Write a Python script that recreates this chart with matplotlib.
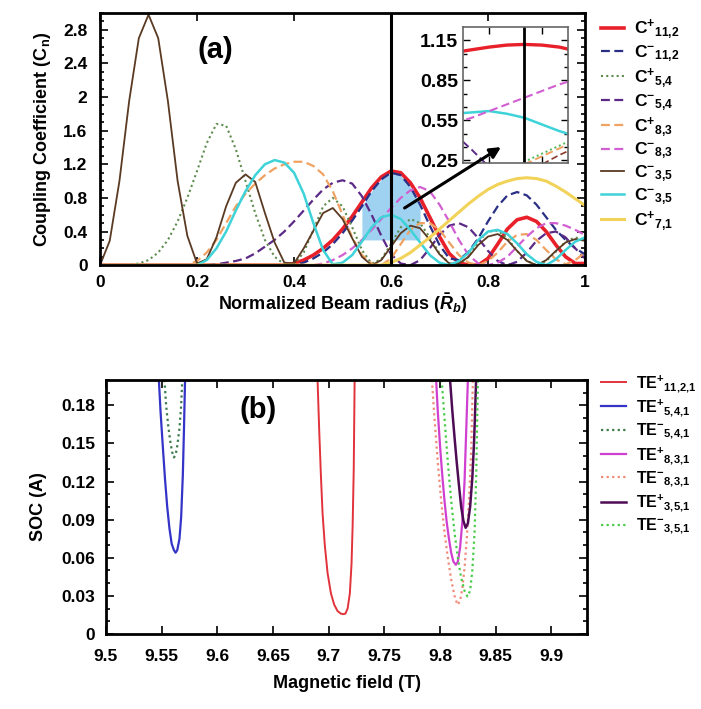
import numpy as np
import matplotlib.pyplot as plt
from matplotlib.ticker import MultipleLocator, FixedLocator

plt.rcParams['font.family'] = ['Liberation Sans', 'DejaVu Sans']
plt.rcParams['font.weight'] = 'bold'
plt.rcParams['mathtext.fontset'] = 'custom'
plt.rcParams['mathtext.rm'] = 'Liberation Sans:bold'
plt.rcParams['mathtext.bf'] = 'Liberation Sans:bold'
plt.rcParams['mathtext.it'] = 'Liberation Sans:bold:italic'
plt.rcParams['mathtext.default'] = 'rm'

# ---- (a) coupling coefficient vs normalized beam radius, sampled every 0.02 ----
rb = np.round(np.arange(0, 1.0001, 0.02), 2)

c_p112 = [0] * 20 + [0.02, 0.06, 0.12, 0.2, 0.3, 0.43, 0.58, 0.75, 0.92, 1.05, 1.12,
                     1.1, 0.98, 0.8, 0.57, 0.34, 0.14, 0.03, 0.0, 0.0, 0.08, 0.25,
                     0.43, 0.54, 0.57, 0.52, 0.4, 0.24, 0.1, 0.02, 0.02]
c_m112 = [0] * 21 + [0.03, 0.08, 0.15, 0.25, 0.38, 0.53, 0.7, 0.88, 1.02, 1.1, 1.07,
                     0.93, 0.72, 0.47, 0.24, 0.08, 0.06, 0.16, 0.32, 0.52, 0.7,
                     0.83, 0.87, 0.83, 0.72, 0.57, 0.42, 0.3, 0.2, 0.13]
c_p54 = [0, 0, 0, 0, 0.02, 0.06, 0.15, 0.3, 0.52, 0.8, 1.12, 1.45, 1.68, 1.66, 1.38,
         1.0, 0.62, 0.3, 0.1, 0.01, 0.01, 0.15, 0.42, 0.7, 0.8, 0.7, 0.45, 0.18,
         0.02, 0.07, 0.25, 0.45, 0.55, 0.5, 0.33, 0.14, 0.02, 0.01, 0.1, 0.28, 0.4,
         0.41, 0.32, 0.17, 0.05, 0.0, 0.05, 0.16, 0.28, 0.33, 0.3]
c_m54 = [0] * 12 + [0.01, 0.03, 0.05, 0.08, 0.14, 0.22, 0.3, 0.4, 0.52, 0.65, 0.78,
                    0.9, 0.98, 1.01, 0.97, 0.82, 0.6, 0.35, 0.13, 0.02, 0.0, 0.06,
                    0.2, 0.36, 0.47, 0.5, 0.45, 0.32, 0.17, 0.05, 0.0, 0.04, 0.15,
                    0.29, 0.38, 0.4, 0.33, 0.2, 0.08]
c_p83 = [0] * 10 + [0.05, 0.15, 0.3, 0.5, 0.7, 0.85, 0.97, 1.07, 1.15, 1.2, 1.23,
                    1.23, 1.18, 1.08, 0.88, 0.6, 0.33, 0.12, 0.02, 0.0, 0.08, 0.25,
                    0.42, 0.5, 0.5, 0.42, 0.27, 0.12, 0.03, 0.0, 0.05, 0.15, 0.28,
                    0.36, 0.37, 0.3, 0.18, 0.07, 0.01, 0.06, 0.15]
c_m83 = [0] * 23 + [0.02, 0.06, 0.12, 0.2, 0.3, 0.42, 0.55, 0.68, 0.8, 0.89, 0.93,
                    0.88, 0.72, 0.52, 0.3, 0.12, 0.02, 0.0, 0.03, 0.1, 0.22, 0.34,
                    0.44, 0.5, 0.5, 0.47, 0.42, 0.36]
c_m35a = [0, 0.29, 1.0, 1.95, 2.7, 2.98, 2.7, 1.95, 1.0, 0.35, 0.02, 0.07, 0.33, 0.7,
          0.98, 1.08, 0.99, 0.62, 0.27, 0.03, 0.02, 0.2, 0.41, 0.62, 0.68, 0.55,
          0.32, 0.1, 0.0, 0.06, 0.22, 0.38, 0.47, 0.44, 0.3, 0.13, 0.02, 0.02, 0.1,
          0.24, 0.34, 0.37, 0.3, 0.17, 0.05, 0.0, 0.06, 0.17, 0.27, 0.31, 0.29]
c_m35b = [0] * 11 + [0.06, 0.2, 0.4, 0.65, 0.88, 1.07, 1.2, 1.25, 1.22, 1.1, 0.85,
                     0.5, 0.18, 0.01, 0.03, 0.12, 0.28, 0.45, 0.57, 0.6, 0.55, 0.42,
                     0.27, 0.12, 0.03, 0.0, 0.05, 0.15, 0.3, 0.4, 0.42, 0.37, 0.26,
                     0.13, 0.04, 0.0, 0.07, 0.18, 0.28, 0.33]
c_p71 = [0] * 30 + [0.03, 0.08, 0.15, 0.24, 0.33, 0.43, 0.53, 0.63, 0.73, 0.82, 0.9,
                    0.96, 1.0, 1.03, 1.04, 1.03, 1.0, 0.94, 0.87, 0.79, 0.71]

# zoomed view around Rb = 0.6
rb_zoom = [0.56, 0.57, 0.58, 0.59, 0.60, 0.61, 0.62, 0.63]
zoom_red = [1.06, 1.08, 1.10, 1.115, 1.12, 1.115, 1.10, 1.07]
zoom_magenta = [0.53, 0.57, 0.62, 0.67, 0.72, 0.77, 0.82, 0.86]
zoom_cyan = [0.60, 0.61, 0.62, 0.60, 0.57, 0.52, 0.47, 0.43]
zoom_purple = [0.45, 0.33, 0.20, 0.10, 0.0, 0.0, 0.0, 0.0]
zoom_orange = [0.0, 0.0, 0.0, 0.15, 0.22, 0.28, 0.34, 0.40]
zoom_green = [0.0, 0.0, 0.0, 0.17, 0.24, 0.30, 0.36, 0.42]
zoom_brown = [0.0, 0.0, 0.0, 0.0, 0.15, 0.22, 0.29, 0.35]

# ---- (b) start-oscillation current vs magnetic field ----
b_p1121 = [9.690, 9.6915, 9.693, 9.6945, 9.6965, 9.699, 9.702, 9.705, 9.708, 9.711,
           9.713, 9.715, 9.717, 9.719, 9.7205, 9.7215, 9.7225, 9.7233]
soc_p1121 = [0.2, 0.16, 0.125, 0.095, 0.07, 0.048, 0.032, 0.023, 0.018, 0.016,
             0.0156, 0.016, 0.02, 0.032, 0.055, 0.085, 0.13, 0.2]
b_p541 = [9.5475, 9.549, 9.551, 9.553, 9.555, 9.557, 9.559, 9.561, 9.5625, 9.564,
          9.566, 9.5675, 9.569, 9.570, 9.571]
soc_p541 = [0.2, 0.175, 0.148, 0.122, 0.1, 0.083, 0.071, 0.066, 0.064, 0.066, 0.075,
            0.092, 0.125, 0.16, 0.2]
b_m541 = [9.5525, 9.554, 9.556, 9.558, 9.5595, 9.561, 9.5625, 9.564, 9.566, 9.5675,
          9.5685]
soc_m541 = [0.2, 0.18, 0.163, 0.15, 0.143, 0.139, 0.141, 0.148, 0.162, 0.18, 0.2]
b_p831 = [9.7965, 9.798, 9.8, 9.802, 9.804, 9.806, 9.808, 9.810, 9.812, 9.8142,
          9.816, 9.818, 9.82, 9.822, 9.8235, 9.825]
soc_p831 = [0.2, 0.175, 0.148, 0.125, 0.105, 0.088, 0.075, 0.064, 0.057, 0.0545,
            0.057, 0.068, 0.088, 0.12, 0.16, 0.2]
b_m831 = [9.7927, 9.795, 9.798, 9.801, 9.804, 9.807, 9.810, 9.813, 9.8157, 9.818,
          9.82, 9.822, 9.824, 9.826, 9.828, 9.8295]
soc_m831 = [0.2, 0.17, 0.135, 0.105, 0.08, 0.06, 0.043, 0.03, 0.023, 0.026, 0.036,
            0.052, 0.075, 0.105, 0.145, 0.2]
b_p351 = [9.809, 9.811, 9.813, 9.815, 9.817, 9.819, 9.821, 9.823, 9.825, 9.827,
          9.829, 9.8305, 9.8315, 9.8324]
soc_p351 = [0.2, 0.176, 0.155, 0.135, 0.117, 0.1, 0.089, 0.0836, 0.087, 0.1, 0.123,
            0.15, 0.175, 0.2]
b_m351 = [9.8015, 9.804, 9.807, 9.81, 9.813, 9.816, 9.819, 9.822, 9.8246, 9.827,
          9.829, 9.831, 9.8325, 9.834]
soc_m351 = [0.2, 0.17, 0.135, 0.105, 0.08, 0.06, 0.044, 0.034, 0.0295, 0.034, 0.05,
            0.08, 0.125, 0.2]

dash = (0, (4, 2))
dot = (0, (1, 1.5))

fig = plt.figure(figsize=(7.01, 7.09), dpi=100)

# ================= panel (a) =================
ax1 = fig.add_axes([0.1427, 0.626, 0.6918, 0.3557])
curves_a = [
    (c_p112, '#E8202A', '-', 2.6, r'C$^{+}{}_{11{,}2}$'),
    (c_m112, '#2A2F86', dash, 1.6, r'C$^{-}{}_{11{,}2}$'),
    (c_p54, '#5E8C4E', dot, 1.5, r'C$^{+}{}_{5{,}4}$'),
    (c_m54, '#5B2A86', dash, 1.6, r'C$^{-}{}_{5{,}4}$'),
    (c_p83, '#F0A262', dash, 1.6, r'C$^{+}{}_{8{,}3}$'),
    (c_m83, '#D25FD2', dash, 1.6, r'C$^{-}{}_{8{,}3}$'),
    (c_m35a, '#5A3A22', '-', 1.3, r'C$^{-}{}_{3{,}5}$'),
    (c_m35b, '#3ED3D8', '-', 1.8, r'C$^{-}{}_{3{,}5}$'),
    (c_p71, '#F2D35A', '-', 2.2, r'C$^{+}{}_{7{,}1}$'),
]
handles_a = []
for y, c, ls, lw, lab in curves_a:
    ln, = ax1.plot(rb, y, color=c, ls=ls, lw=lw, label=lab)
    handles_a.append(ln)

# highlighted region under the peak near Rb = 0.6
c_m112_arr = np.array(c_m112)
ax1.fill_between(rb, c_m112_arr, 0.3, where=(rb >= 0.54) & (rb <= 0.66),
                 color='#7FC4EC', alpha=0.75, lw=0, zorder=0)
ax1.axvline(0.6, color='black', lw=2.2)

ax1.set_xlim(0, 1)
ax1.set_ylim(0, 3.0)
ax1.set_xticks([0, 0.2, 0.4, 0.6, 0.8, 1.0])
ax1.set_xticklabels(['0', '0.2', '0.4', '0.6', '0.8', '1'])
ax1.set_yticks([0, 0.4, 0.8, 1.2, 1.6, 2.0, 2.4, 2.8])
ax1.set_yticklabels(['0', '0.4', '0.8', '1.2', '1.6', '2', '2.4', '2.8'])
ax1.yaxis.set_minor_locator(MultipleLocator(0.1))
ax1.tick_params(which='both', direction='in', top=True, right=True,
                labelsize=12.5, width=1.2)
ax1.tick_params(which='major', length=6)
ax1.tick_params(which='minor', length=3)
ax1.tick_params(axis='x', pad=7)
ax1.tick_params(axis='y', pad=9)
for s in ax1.spines.values():
    s.set_linewidth(2)
ax1.set_xlabel(r'Normalized Beam radius ($\bar{\mathit{R}}_{\mathit{b}}$)',
               fontsize=13, fontweight='bold', labelpad=1)
ax1.set_ylabel(r'Coupling Coefficient (C$_{n}$)', fontsize=13,
               fontweight='bold', labelpad=7)
ax1.text(0.237, 2.56, '(a)', fontsize=21, fontweight='bold', ha='center',
         va='center')

fig.legend(handles=handles_a, loc='upper left',
           bbox_to_anchor=(0.848, 0.985), frameon=False, fontsize=12.5,
           handlelength=1.3, handletextpad=0.6, labelspacing=0.12,
           borderaxespad=0)

# inset
axi = fig.add_axes([0.6605, 0.770, 0.1498, 0.1918])
axi.plot(rb_zoom, zoom_purple, color='#5B2A86', ls=dash, lw=1.4)
axi.plot(rb_zoom, zoom_brown, color='#8A3A2A', ls=dash, lw=1.2)
axi.plot(rb_zoom, zoom_orange, color='#F0A262', ls=dash, lw=1.4)
axi.plot(rb_zoom, zoom_green, color='#4FB85A', ls=dot, lw=1.4)
axi.plot(rb_zoom, zoom_cyan, color='#3ED3D8', lw=1.8)
axi.plot(rb_zoom, zoom_magenta, color='#D25FD2', ls=dash, lw=1.5)
axi.plot(rb_zoom, zoom_red, color='#E8202A', lw=2.4)
axi.axvline(0.6, color='black', lw=2)
axi.set_xlim(0.565, 0.625)
axi.set_ylim(0.23, 1.25)
axi.set_xticks([0.58, 0.61])
axi.set_xticklabels([])
axi.set_yticks([0.25, 0.55, 0.85, 1.15])
axi.set_yticklabels(['0.25', '0.55', '0.85', '1.15'])
axi.yaxis.set_minor_locator(FixedLocator([0.35, 0.45, 0.65, 0.75, 0.95, 1.05]))
axi.tick_params(which='both', direction='in', right=True, top=True,
                labelsize=14, width=1)
axi.tick_params(which='major', length=5)
axi.tick_params(which='minor', length=3)
for s in axi.spines.values():
    s.set_linewidth(1.2)
    s.set_color('#666666')

# arrow from the highlighted peak up into the zoomed view
axi.annotate('', xy=(0.5867, 0.35), xycoords='data',
             xytext=(0.628, 0.68), textcoords=ax1.transData,
             annotation_clip=False,
             arrowprops=dict(arrowstyle='-|>', color='black', lw=2.2,
                             mutation_scale=16, shrinkA=0, shrinkB=0))

# ================= panel (b) =================
ax2 = fig.add_axes([0.1512, 0.1058, 0.6862, 0.3583])
curves_b = [
    (b_p1121, soc_p1121, '#E2333B', '-', 1.4, r'TE$^{+}{}_{11{,}2{,}1}$'),
    (b_p541, soc_p541, '#3434C8', '-', 1.6, r'TE$^{+}{}_{5{,}4{,}1}$'),
    (b_m541, soc_m541, '#3C7A4A', dot, 1.6, r'TE$^{-}{}_{5{,}4{,}1}$'),
    (b_p831, soc_p831, '#D040D0', '-', 1.6, r'TE$^{+}{}_{8{,}3{,}1}$'),
    (b_m831, soc_m831, '#F08A78', dot, 1.6, r'TE$^{-}{}_{8{,}3{,}1}$'),
    (b_p351, soc_p351, '#4E0C55', '-', 1.8, r'TE$^{+}{}_{3{,}5{,}1}$'),
    (b_m351, soc_m351, '#48CC48', dot, 1.6, r'TE$^{-}{}_{3{,}5{,}1}$'),
]
handles_b = []
for x, y, c, ls, lw, lab in curves_b:
    ln, = ax2.plot(x, y, color=c, ls=ls, lw=lw, label=lab)
    handles_b.append(ln)

ax2.set_xlim(9.5, 9.932)
ax2.set_ylim(0, 0.2)
ax2.set_xticks([9.5, 9.55, 9.6, 9.65, 9.7, 9.75, 9.8, 9.85, 9.9])
ax2.set_xticklabels(['9.5', '9.55', '9.6', '9.65', '9.7', '9.75', '9.8', '9.85',
                     '9.9'])
ax2.set_yticks([0, 0.03, 0.06, 0.09, 0.12, 0.15, 0.18])
ax2.set_yticklabels(['0', '0.03', '0.06', '0.09', '0.12', '0.15', '0.18'])
ax2.yaxis.set_minor_locator(MultipleLocator(0.01))
ax2.tick_params(which='both', direction='in', top=True, right=True,
                labelsize=12.5, width=1.2)
ax2.tick_params(which='major', length=6)
ax2.tick_params(which='minor', length=3)
ax2.tick_params(axis='x', pad=11)
ax2.tick_params(axis='y', pad=8)
for s in ax2.spines.values():
    s.set_linewidth(2)
ax2.set_xlabel('Magnetic field (T)', fontsize=13, fontweight='bold', labelpad=8)
ax2.set_ylabel('SOC (A)', fontsize=13, fontweight='bold', labelpad=10)
ax2.text(9.637, 0.176, '(b)', fontsize=21, fontweight='bold', ha='center',
         va='center')

fig.legend(handles=handles_b, loc='upper left',
           bbox_to_anchor=(0.848, 0.483), frameon=False, fontsize=11.5,
           handlelength=1.6, handletextpad=0.6, labelspacing=0.22,
           borderaxespad=0)

fig.savefig('out.png', dpi=100)
